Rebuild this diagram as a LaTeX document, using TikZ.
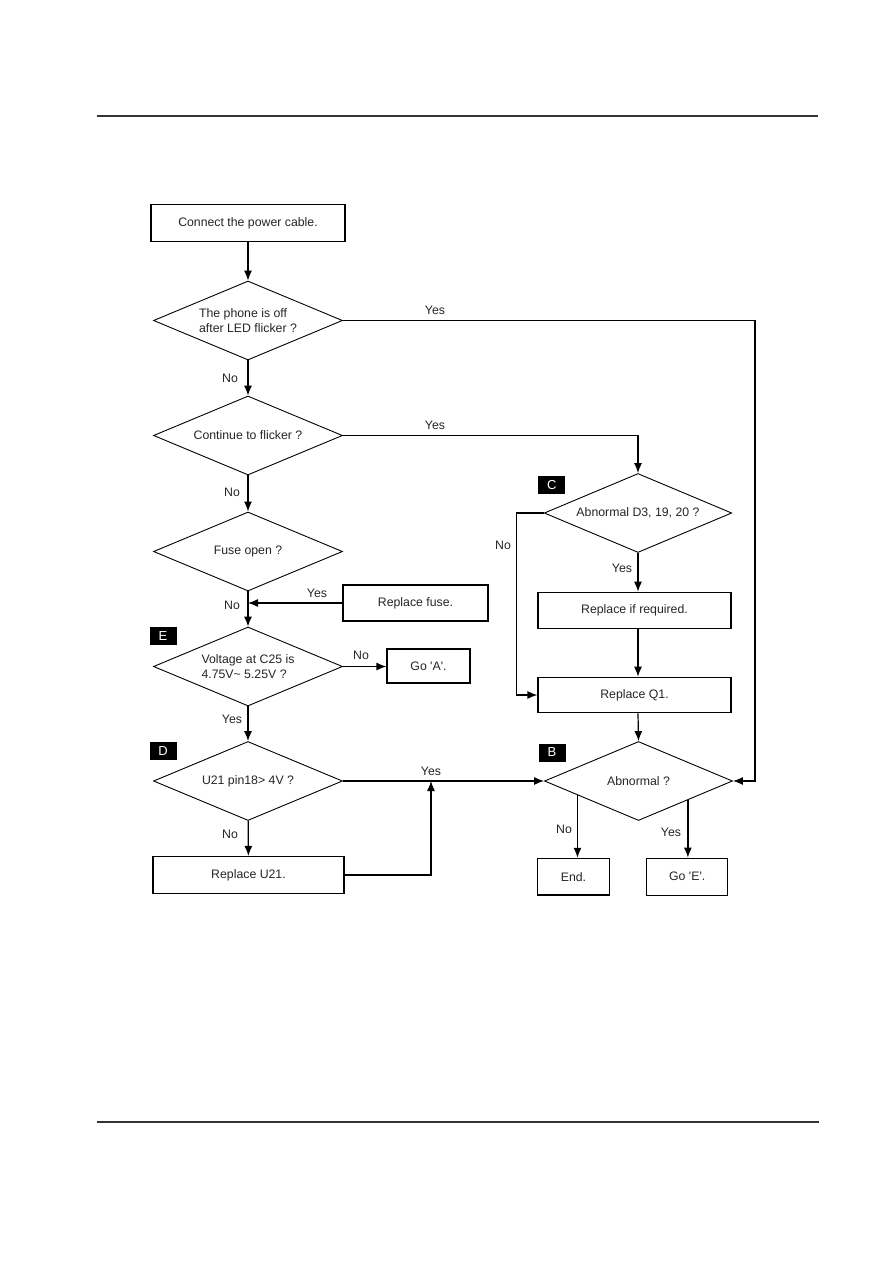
\documentclass[tikz,border=0pt]{standalone}
\usepackage{fontspec}
\setmainfont{Liberation Sans}
\usetikzlibrary{shapes.geometric,arrows.meta,calc}
\begin{document}
\begin{tikzpicture}[x=1pt,y=-1pt,
  every node/.style={font=\fontsize{12.3}{14.5}\selectfont, text=black!85},
  box/.style={draw=black, line width=1.2pt, inner sep=0pt},
  dia/.style={diamond, draw=black, line width=0.9pt, minimum width=189pt, minimum height=79pt, inner sep=0pt, shape aspect=2.4, align=left},
  tag/.style={fill=black, text=white, minimum width=27pt, minimum height=18pt, inner sep=0pt, font=\fontsize{13}{15}\selectfont},
  arr/.style={line width=1.2pt, -{Latex[length=10pt,width=8pt]}},
  lbl/.style={inner sep=0pt},
  rule/.style={line width=1.3pt, black!80}]
\fill[white] (0,0) rectangle (893,1263);
\useasboundingbox (0,0) rectangle (893,1263);
\coordinate (t1) at (97,116); \coordinate (t2) at (818,116);
\coordinate (u1) at (97,1122); \coordinate (u2) at (819,1122);
\draw[rule] (t1) -- (t2);
\draw[rule] (u1) -- (u2);

\node[box, minimum width=194pt, minimum height=36.5pt] (b1) at (248,223) {Connect the power cable.};
\node[dia] (d1) at (248,320.5) {The phone is off\\after LED flicker ?};
\node[dia] (d2) at (248,435.5) {Continue to flicker ?};
\node[dia] (d3) at (248,551.5) {Fuse open ?};
\node[box, minimum width=145pt, minimum height=36pt] (fuse) at (415.5,603) {Replace fuse.};
\node[dia] (d4) at (248,666.5) {Voltage at C25 is\\4.75V\textasciitilde{} 5.25V ?};
\node[box, minimum width=83pt, minimum height=34pt] (goA) at (428.5,666) {Go \textquotesingle A\textquotesingle.};
\node[dia] (d5) at (248,781) {U21 pin18> 4V ?};
\node[box, minimum width=191pt, minimum height=37pt] (u21) at (248.5,875) {Replace U21.};
\node[dia, minimum width=187.5pt] (dc) at (638,513) {Abnormal D3, 19, 20 ?};
\node[box, minimum width=193pt, minimum height=36.5pt] (rif) at (634.5,610.5) {Replace if required.};
\node[box, minimum width=193pt, minimum height=35.5pt] (q1) at (634.5,695) {Replace Q1.};
\node[dia, minimum width=188pt] (db) at (638.5,781) {Abnormal ?};
\node[box, minimum width=71.6pt, minimum height=36.7pt] (end) at (573.5,876.7) {End.};
\node[box, minimum width=81pt, minimum height=37pt] (goE) at (687.2,876.7) {Go \textquotesingle E\textquotesingle.};

\node[tag] (tE) at (163,636) {E};
\node[tag] (tD) at (163,751) {D};
\node[tag] (tC) at (551.7,484.7) {C};
\node[tag] (tB) at (552,752.5) {B};

\draw[arr] (b1) -- (d1);
\draw[arr] (d1) -- (d2);
\draw[arr] (d2) -- (d3);
\draw[arr] (d3) -- (d4);
\draw[arr] (fuse.west) -- (fuse.west -| d3.south);
\draw[arr] (d4.east) -- (d4.east -| goA.west);
\draw[arr] (d4) -- (d5);
\draw[arr] (d5) -- (u21);
\coordinate (j) at (431,781);
\draw[arr] (u21.east) -| (j);
\draw[arr] (d5.east) -- (db.west);
\coordinate (r1) at (755,320.5);
\draw[arr] (d1.east) -- (r1) |- (db.east);
\draw[arr] (d2.east) -| (dc.north);
\coordinate (l1) at (516.7,513);
\draw[arr] (dc.west) -- (l1) |- (q1.west);
\draw[arr] (dc.south) -- (dc.south |- rif.north);
\draw[arr] (dc.south |- rif.south) -- (dc.south |- q1.north);
\draw[arr] (dc.south |- q1.south) -- (db.north);
\coordinate (pn) at ($(db.west)!0.354!(db.south)$);
\draw[arr] (pn) -- (pn |- end.north);
\coordinate (py) at ($(db.south)!0.523!(db.east)$);
\draw[arr] (py) -- (py |- goE.north);

\node[lbl] (y1) at (435,310) {Yes};
\node[lbl] (y2) at (435,425) {Yes};
\node[lbl] (y3) at (317,593) {Yes};
\node[lbl] (n4) at (361,655) {No};
\node[lbl] (y5) at (232,719) {Yes};
\node[lbl] (n6) at (230,834) {No};
\node[lbl] (y7) at (431,771) {Yes};
\node[lbl] (n8) at (503,545) {No};
\node[lbl] (y9) at (622,568) {Yes};
\node[lbl] (n10) at (564,829) {No};
\node[lbl] (y11) at (671,832) {Yes};
\node[lbl] (n12) at (230,378) {No};
\node[lbl] (n13) at (232,492) {No};
\node[lbl] (n14) at (232,605) {No};
\end{tikzpicture}
\end{document}
